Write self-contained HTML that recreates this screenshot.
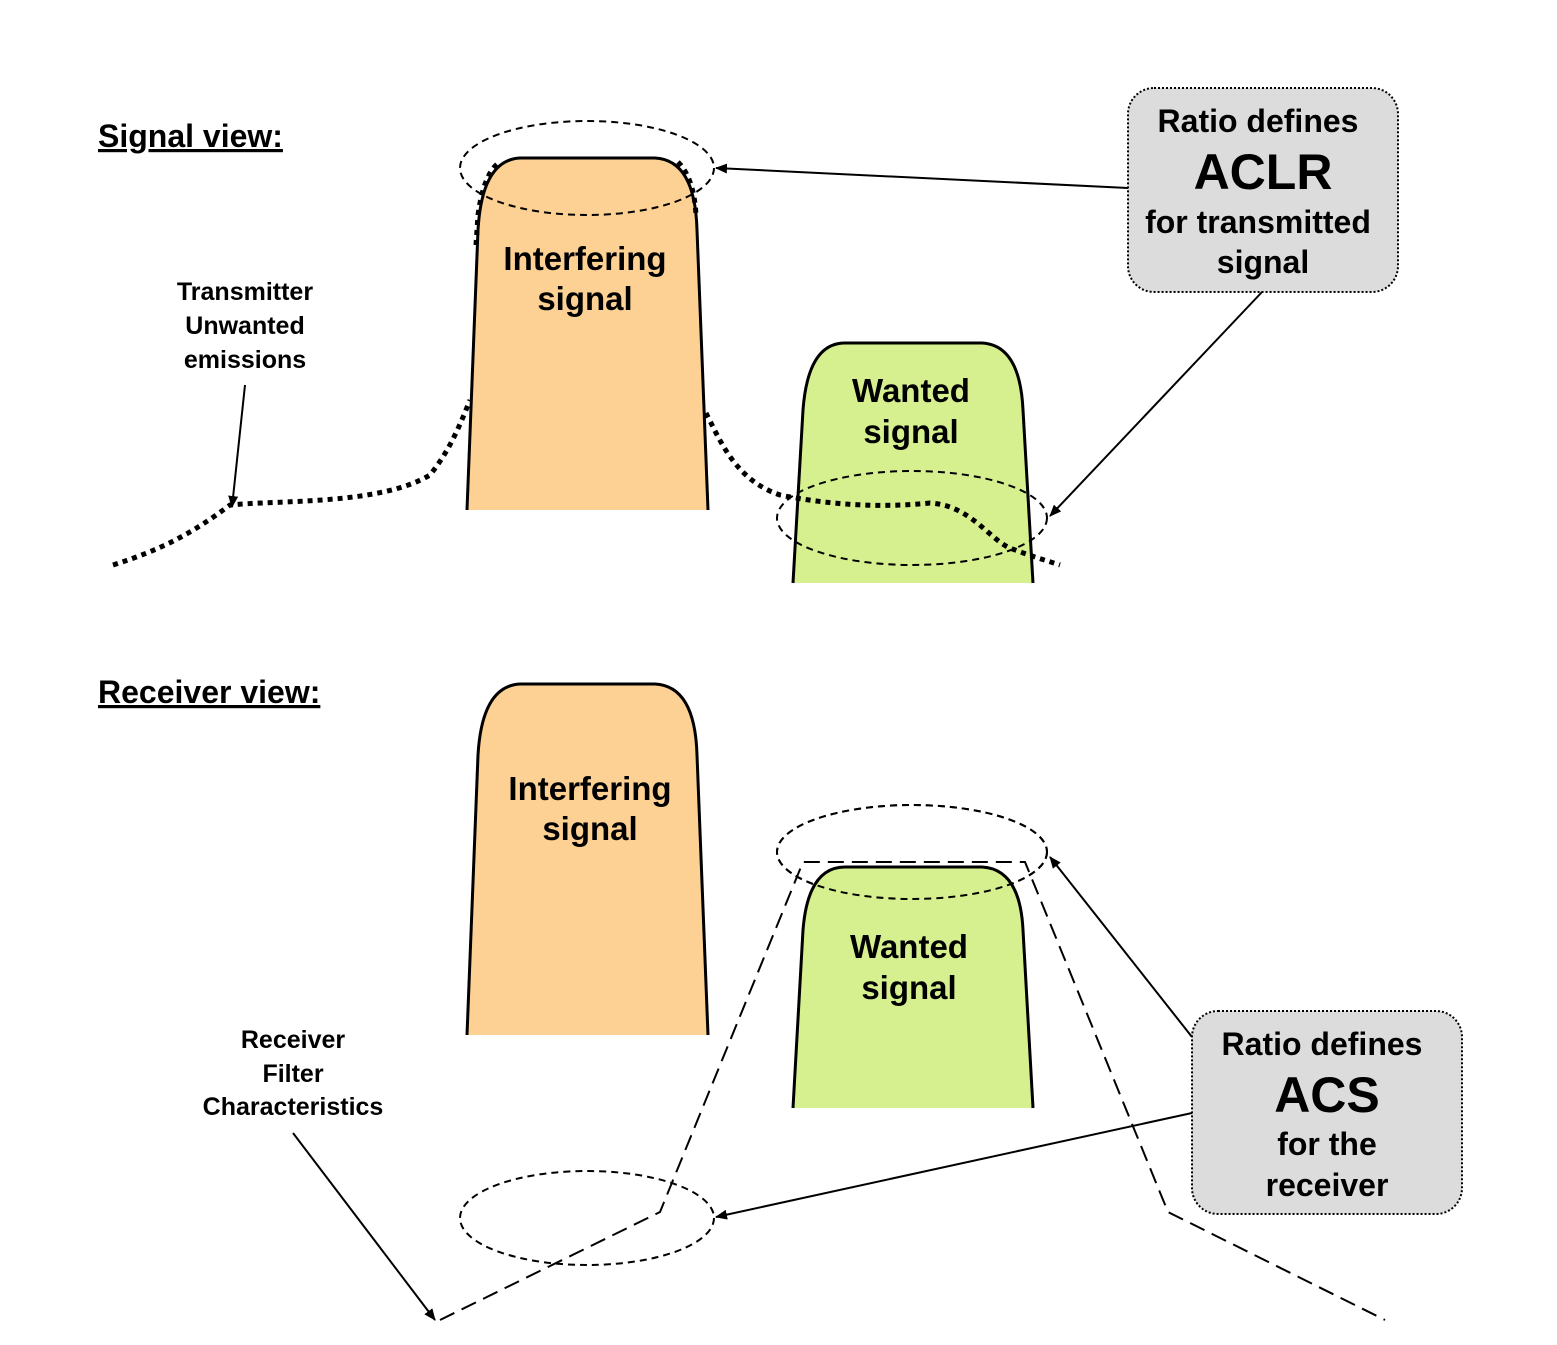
<!DOCTYPE html>
<html><head><meta charset="utf-8"><style>
html,body{margin:0;padding:0;background:#fff}
svg text{font-family:"Liberation Sans",Arial,sans-serif;font-weight:bold;fill:#000}
</style></head><body>
<svg width="1557" height="1340" viewBox="0 0 1557 1340" xmlns="http://www.w3.org/2000/svg">
<defs><marker id="a" markerWidth="12" markerHeight="10" refX="11" refY="5" orient="auto" markerUnits="userSpaceOnUse"><path d="M0,0 L12,5 L0,10 z" fill="#000"/></marker></defs>

<!-- top signals -->
<path d="M467,510 L478,230 Q482,160 520,158 L655,158 Q695,160 697,230 L708,510 Z" fill="#fdd093"/>
<path d="M467,510 L478,230 Q482,160 520,158 L655,158 Q695,160 697,230 L708,510" fill="none" stroke="#000" stroke-width="3"/>
<path d="M793,583 L803,410 Q808,343 845,343 L982,343 Q1020,345 1023,410 L1033,583 Z" fill="#d6f08f"/>
<path d="M793,583 L803,410 Q808,343 845,343 L982,343 Q1020,345 1023,410 L1033,583" fill="none" stroke="#000" stroke-width="3"/>

<!-- emissions dotted -->
<g fill="none" stroke="#000" stroke-width="5" stroke-dasharray="5 5">
<path d="M113,565 C160,550 190,535 230,505 C280,500 380,505 430,475 C450,450 460,425 470,400"/>
<path d="M706,413 C720,440 735,480 780,495 C830,505 880,508 930,503 C970,505 990,540 1010,548 C1030,556 1045,560 1060,565"/>
<path d="M476,245 L478,215 Q484,172 500,162"/>
<path d="M678,162 Q694,178 696,215"/>
</g>

<!-- ellipses -->
<g fill="none" stroke="#000" stroke-width="2" stroke-dasharray="7 5">
<ellipse cx="587" cy="168" rx="127" ry="47"/>
<ellipse cx="912" cy="518" rx="135" ry="47"/>
<ellipse cx="912" cy="852" rx="135" ry="47"/>
<ellipse cx="587" cy="1218" rx="127" ry="47"/>
</g>

<!-- bottom signals -->
<path d="M467,1035 L478,755 Q482,686 520,684 L655,684 Q695,686 697,755 L708,1035 Z" fill="#fdd093"/>
<path d="M467,1035 L478,755 Q482,686 520,684 L655,684 Q695,686 697,755 L708,1035" fill="none" stroke="#000" stroke-width="3"/>
<path d="M793,1108 L803,930 Q808,867 845,867 L982,867 Q1020,869 1023,930 L1033,1108 Z" fill="#d6f08f"/>
<path d="M793,1108 L803,930 Q808,867 845,867 L982,867 Q1020,869 1023,930 L1033,1108" fill="none" stroke="#000" stroke-width="3"/>
<ellipse cx="912" cy="852" rx="135" ry="47" fill="none" stroke="#000" stroke-width="2" stroke-dasharray="7 5"/>

<!-- filter -->
<path d="M440,1320 L660,1212 L803,862 L1025,862 L1168,1212 L1385,1320" fill="none" stroke="#000" stroke-width="2" stroke-dasharray="16 8"/>

<!-- boxes -->
<rect x="1128" y="88" width="270" height="204" rx="26" fill="#dcdcdc" stroke="#000" stroke-width="2" stroke-dasharray="2 2"/>
<rect x="1192" y="1011" width="270" height="203" rx="26" fill="#dcdcdc" stroke="#000" stroke-width="2" stroke-dasharray="2 2"/>

<!-- arrows -->
<g stroke="#000" stroke-width="2" marker-end="url(#a)">
<line x1="1128" y1="188" x2="716" y2="168"/>
<line x1="1262" y1="292" x2="1050" y2="516"/>
<line x1="245" y1="385" x2="232" y2="507"/>
<line x1="1192" y1="1037" x2="1050" y2="857"/>
<line x1="1192" y1="1113" x2="716" y2="1217"/>
<line x1="293" y1="1133" x2="435" y2="1320"/>
</g>

<!-- text -->
<text x="98" y="147" font-size="32" text-decoration="underline">Signal view:</text>
<text x="98" y="703" font-size="32" text-decoration="underline">Receiver view:</text>
<g text-anchor="middle">
<text x="585" y="270" font-size="33">Interfering</text>
<text x="585" y="310" font-size="33">signal</text>
<text x="911" y="402" font-size="33">Wanted</text>
<text x="911" y="443" font-size="33">signal</text>
<text x="590" y="800" font-size="33">Interfering</text>
<text x="590" y="840" font-size="33">signal</text>
<text x="909" y="958" font-size="33">Wanted</text>
<text x="909" y="999" font-size="33">signal</text>
<text x="245" y="300" font-size="25">Transmitter</text>
<text x="245" y="334" font-size="25">Unwanted</text>
<text x="245" y="368" font-size="25">emissions</text>
<text x="293" y="1048" font-size="25">Receiver</text>
<text x="293" y="1082" font-size="25">Filter</text>
<text x="293" y="1115" font-size="25">Characteristics</text>
<text x="1258" y="132" font-size="32">Ratio defines</text>
<text x="1263" y="189" font-size="50">ACLR</text>
<text x="1258" y="233" font-size="32">for transmitted</text>
<text x="1263" y="273" font-size="32">signal</text>
<text x="1322" y="1055" font-size="32">Ratio defines</text>
<text x="1327" y="1112" font-size="50">ACS</text>
<text x="1327" y="1155" font-size="32">for the</text>
<text x="1327" y="1196" font-size="32">receiver</text>
</g>
</svg>
</body></html>
